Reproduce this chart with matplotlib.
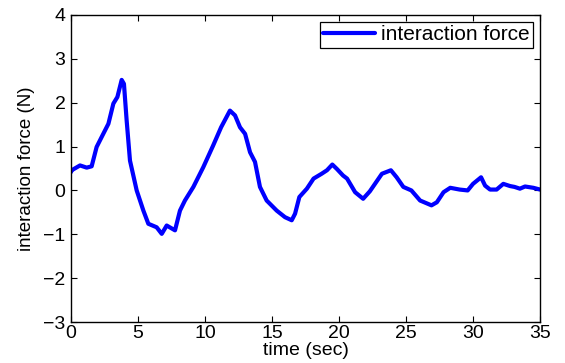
import matplotlib
matplotlib.use("Agg")
import matplotlib.pyplot as plt

# Measured interaction force over time
time_sec = [0.0, 0.05, 0.67, 1.17, 1.54, 1.91, 2.29, 2.79, 3.16, 3.46, 3.78, 3.95,
            4.15, 4.40, 4.90, 5.40, 5.77, 6.39, 6.77, 7.14, 7.76, 8.13, 8.50, 9.13,
            9.87, 10.6, 11.2, 11.86, 12.24, 12.61, 12.99, 13.36, 13.73, 14.1, 14.6,
            15.35, 15.97, 16.47, 16.72, 17.04, 17.6, 18.1, 18.7, 19.1, 19.5, 19.84,
            20.3, 20.6, 21.2, 21.8, 22.3, 23.2, 23.87, 24.3, 24.8, 25.4, 26.05,
            26.9, 27.3, 27.8, 28.3, 29.0, 29.6, 30.0, 30.6, 30.9, 31.27, 31.76,
            32.26, 32.76, 33.1, 33.5, 33.88, 34.5, 35.0]
force_n = [0.42, 0.46, 0.57, 0.52, 0.55, 0.99, 1.22, 1.52, 1.98, 2.13, 2.52, 2.43,
           1.60, 0.68, 0.00, -0.46, -0.76, -0.84, -0.99, -0.80, -0.91, -0.46, -0.23, 0.08,
           0.53, 1.02, 1.44, 1.82, 1.71, 1.44, 1.29, 0.87, 0.65, 0.08, -0.23,
           -0.46, -0.61, -0.68, -0.53, -0.15, 0.04, 0.27, 0.38, 0.46, 0.59, 0.49,
           0.34, 0.27, -0.04, -0.19, -0.02, 0.38, 0.46, 0.30, 0.08, 0.00, -0.23,
           -0.34, -0.27, -0.04, 0.06, 0.02, 0.00, 0.15, 0.30, 0.11, 0.02, 0.02,
           0.15, 0.10, 0.08, 0.04, 0.09, 0.06, 0.02]

x_ticks = [0, 5, 10, 15, 20, 25, 30, 35]
y_ticks = [-3, -2, -1, 0, 1, 2, 3, 4]
y_tick_labels = ['\u22123', '\u22122', '\u22121', '0', '1', '2', '3', '4']

plt.rcParams['font.family'] = ['Liberation Sans', 'DejaVu Sans']

fig = plt.figure(figsize=(5.65, 3.63), dpi=100)
ax = fig.add_axes([0.1257, 0.1129, 0.8301, 0.8458])

ax.plot(time_sec, force_n, color='#0000ff', lw=3, label='interaction force',
        solid_joinstyle='round', solid_capstyle='round')

ax.set_xlim(0, 35)
ax.set_ylim(-3, 4)
ax.set_xticks(x_ticks)
ax.set_yticks(y_ticks)
ax.set_yticklabels(y_tick_labels)
ax.tick_params(direction='in', top=True, right=True, length=4, width=0.8,
               labelsize=14, colors='black')
ax.tick_params(axis='x', pad=2)
ax.tick_params(axis='y', pad=4)
for s in ax.spines.values():
    s.set_linewidth(1.0)

ax.set_xlabel('time (sec)', fontsize=14, labelpad=0)
ax.set_ylabel('interaction force (N)', fontsize=13.5, labelpad=6)

leg = ax.legend(loc='upper right', fontsize=15, fancybox=False, framealpha=1,
                edgecolor='black', borderaxespad=0.35, handlelength=2.5,
                borderpad=0.15, handletextpad=0.3)
leg.get_frame().set_linewidth(0.9)

fig.savefig('out.png', dpi=100)
